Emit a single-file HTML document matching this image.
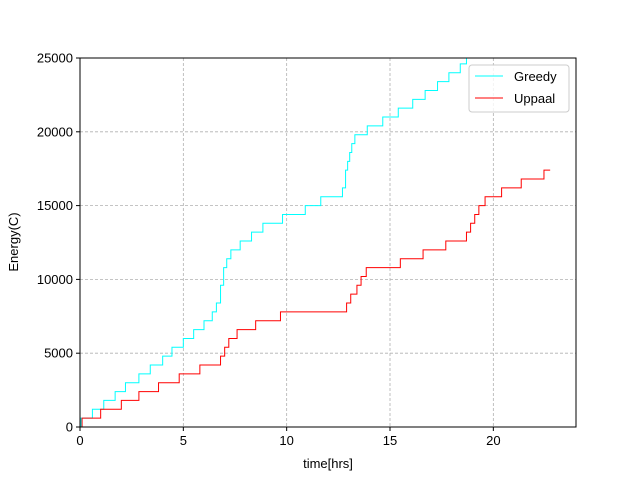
<!DOCTYPE html>
<html><head><meta charset="utf-8"><style>
body{margin:0;background:#fff;}
svg{display:block;font-family:"Liberation Sans","DejaVu Sans",sans-serif;}
</style></head><body>
<svg id="chart" width="640" height="480">
<rect width="640" height="480" fill="#fff"/>
<g id="grid"></g>
<g id="series"></g>
<rect x="80" y="58" width="496" height="369" fill="none" stroke="#000" stroke-width="1"/>
<g id="axes"></g>
<text x="328" y="468" font-size="13" text-anchor="middle">time[hrs]</text>
<text transform="translate(18,242) rotate(-90)" font-size="13" text-anchor="middle">Energy(C)</text>
<g>
<rect x="469" y="65" width="100" height="47" rx="3" fill="#fff" fill-opacity="0.8" stroke="#ccc"/>
<line x1="475" y1="76" x2="503" y2="76" stroke="cyan"/>
<text x="514" y="81" font-size="13">Greedy</text>
<line x1="475" y1="98" x2="503" y2="98" stroke="red"/>
<text x="514" y="103" font-size="13">Uppaal</text>
</g>
</svg>
<script>
const xTicks=[0,5,10,15,20];
const yTicks=[0,5000,10000,15000,20000,25000];
const greedyT=[0,0.05,0.6,1.15,1.7,2.2,2.85,3.4,4.0,4.45,5.0,5.5,6.0,6.4,6.6,6.8,6.95,7.1,7.3,7.75,8.3,8.85,9.8,10.9,11.65,12.7,12.85,12.95,13.05,13.15,13.3,13.45,13.9,14.65,15.4,16.1,16.7,17.3,17.85,18.4,18.7];
const greedyE=[0,600,1200,1800,2400,3000,3600,4200,4800,5400,6000,6600,7200,7800,8400,9600,10800,11400,12000,12600,13200,13800,14400,15000,15600,16200,17400,18000,18600,19200,19800,19800,20400,21000,21600,22200,22800,23400,24000,24600,25200];
const uppaalT=[0,0.1,1.0,2.0,2.85,3.8,4.8,5.8,6.8,7.0,7.2,7.6,8.5,9.7,12.9,13.1,13.4,13.6,13.85,15.5,16.6,17.7,18.7,18.9,19.1,19.3,19.6,20.4,21.35,22.45];
const uppaalE=[0,600,1200,1800,2400,3000,3600,4200,4800,5400,6000,6600,7200,7800,8400,9000,9600,10200,10800,11400,12000,12600,13200,13800,14400,15000,15600,16200,16800,17400];
const uppaalEnd=22.75;
const X0=80,X1=576,Y0=427,Y1=58,XMAX=24,YMAX=25000;
const sx=v=>X0+v/XMAX*(X1-X0), sy=v=>Y0-v/YMAX*(Y0-Y1);
const NS='http://www.w3.org/2000/svg';
const grid=document.getElementById('grid'),axes=document.getElementById('axes'),ser=document.getElementById('series');
function mk(tag,attrs,parent){const e=document.createElementNS(NS,tag);for(const k in attrs)e.setAttribute(k,attrs[k]);parent.appendChild(e);return e;}
xTicks.forEach(t=>{
 const g=mk('line',{x1:sx(t),x2:sx(t),y1:Y1,y2:Y0,stroke:'#b0b0b0','stroke-dasharray':'3,2','stroke-width':0.8},grid);
 
 
 const tk=mk('line',{x1:sx(t),x2:sx(t),y1:Y0,y2:Y0+4,stroke:'#000'},axes);
 
 
 const tx=mk('text',{x:sx(t),y:Y0+18,'font-size':13,'text-anchor':'middle'},axes);
 tx.textContent=t;
 
 
});
yTicks.forEach(t=>{
 const g=mk('line',{x1:X0,x2:X1,y1:sy(t),y2:sy(t),stroke:'#b0b0b0','stroke-dasharray':'3,2','stroke-width':0.8},grid);
 
 
 const tk=mk('line',{x1:X0-4,x2:X0,y1:sy(t),y2:sy(t),stroke:'#000'},axes);
 
 
 const tx=mk('text',{x:X0-7,y:sy(t)+4.5,'font-size':13,'text-anchor':'end'},axes);
 tx.textContent=t;
 
 
});
function stepPath(T,E,end){
 let d='M'+sx(T[0])+','+sy(E[0]);
 for(let i=1;i<T.length;i++){d+=' H'+sx(T[i])+' V'+sy(E[i]);}
 if(end!==undefined)d+=' H'+sx(end);
 return d;
}
const cp=document.createElementNS(NS,'clipPath');cp.id='clip';mk('rect',{x:X0,y:Y1,width:X1-X0,height:Y0-Y1},cp);ser.appendChild(cp);
const pg=mk('path',{d:stepPath(greedyT,greedyE,greedyT[greedyT.length-1]+0.3),fill:'none',stroke:'cyan','stroke-width':1,'clip-path':'url(#clip)'},ser);


const pu=mk('path',{d:stepPath(uppaalT,uppaalE,uppaalEnd),fill:'none',stroke:'red','stroke-width':1,'clip-path':'url(#clip)'},ser);


</script>
</body></html>
